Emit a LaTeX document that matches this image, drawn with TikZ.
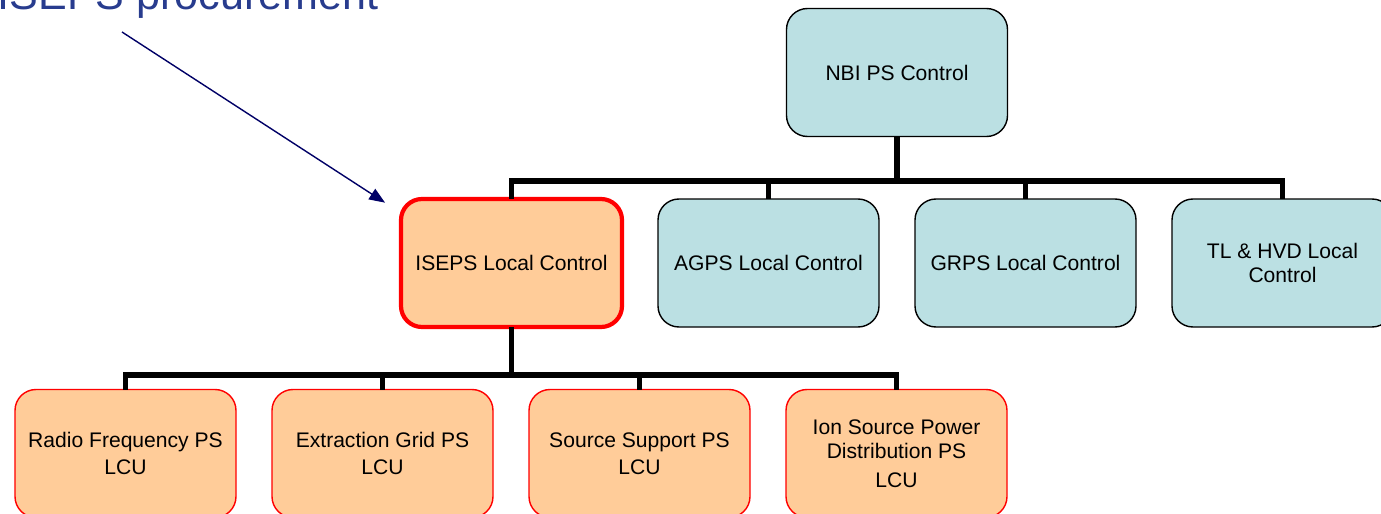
\documentclass[tikz,border=0pt]{standalone}
\usepackage{fontspec}
\setmainfont{Liberation Sans}
\usetikzlibrary{arrows.meta,positioning}
\definecolor{NBIBlue}{HTML}{BBE0E3}
\definecolor{NBIOrange}{HTML}{FFCC99}
\definecolor{NBIRed}{HTML}{FF0000}
\definecolor{NBINavy}{HTML}{000066}
\definecolor{NBITitle}{HTML}{283C8E}
\tikzset{
  nbibox/.style={
    draw=black,
    line width=0.8pt,
    fill=NBIBlue,
    rounded corners=0.42cm,
    align=center,
    minimum width=4.42cm,
    minimum height=2.56cm,
    outer sep=0pt,
    font=\fontsize{12}{13.5}\selectfont
  },
  nbilocal/.style={nbibox,draw=NBIRed,fill=NBIOrange},
  nbisel/.style={nbilocal,line width=2.4pt},
  nbibus/.style={line width=3.2pt,line join=miter},
  nbipointer/.style={-{Triangle[length=9pt,width=7pt]},draw=NBINavy,line width=0.8pt}
}

\begin{document}
\begin{tikzpicture}[node distance=0.72cm]
  \useasboundingbox (0,0) rectangle (27.62,-10.28);
  \clip (0,0) rectangle (27.62,-10.28);
  \node[anchor=base west,inner sep=0pt,text=NBITitle,font=\fontsize{24.5}{28}\selectfont] (title) at (-0.05,-0.2) {ISEPS procurement};
  \node[nbibox] (nbi) at (17.94,-1.45) {NBI PS Control};
  \node[nbisel] (iseps) at (10.23,-5.26) {ISEPS Local Control};
  \node[nbibox,right=of iseps] (agps) {AGPS Local Control};
  \node[nbibox,right=of agps] (grps) {GRPS Local Control};
  \node[nbibox,right=of grps] (tlhvd) {TL \& HVD Local\\Control};
  \node[nbilocal] (rf) at (2.51,-9.07) {Radio Frequency PS\\[2pt]LCU};
  \node[nbilocal,right=of rf] (eg) {Extraction Grid PS\\[2pt]LCU};
  \node[nbilocal,right=of eg] (ss) {Source Support PS\\[2pt]LCU};
  \node[nbilocal,right=of ss] (isp) {Ion Source Power\\Distribution PS\\[3pt]LCU};
  \coordinate (upbus) at (0,-3.62);
  \coordinate (lowbus) at (0,-7.5);
  \foreach \n in {iseps,agps,grps,tlhvd}
    \draw[nbibus] (nbi.south) -- (nbi.south |- upbus) -| (\n.north);
  \foreach \n in {rf,eg,ss,isp}
    \draw[nbibus] (iseps.south) -- (iseps.south |- lowbus) -| (\n.north);
  \coordinate (tail) at (2.44,-0.64);
  \draw[nbipointer,shorten >=0.38cm] (tail) -- ([yshift=-0.28cm]iseps.north west);
\end{tikzpicture}
\end{document}
